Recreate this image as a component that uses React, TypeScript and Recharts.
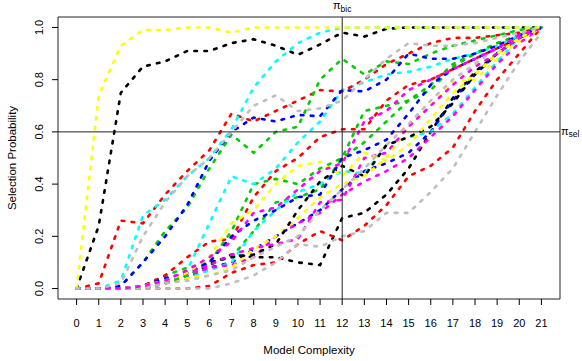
import { LineChart, Line, XAxis, YAxis, ReferenceLine, ReferenceArea } from "recharts";

// model complexity 0..21
const complexity = [0, 1, 2, 3, 4, 5, 6, 7, 8, 9, 10, 11, 12, 13, 14, 15, 16, 17, 18, 19, 20, 21];
const yTicks = [0, 0.2, 0.4, 0.6, 0.8, 1.0];

// selection probability paths
const yellow1 = [0, 0.74, 0.93, 0.99, 0.99, 1, 1, 0.98, 1, 1, 1, 1, 1, 1, 1, 1, 1, 1, 1, 1, 1, 1];
const black1 = [0, 0.24, 0.75, 0.85, 0.87, 0.91, 0.91, 0.94, 0.955, 0.93, 0.895, 0.935, 0.98, 0.965, 0.995, 1, 1, 1, 1, 1, 1, 1];
const red1 = [0, 0.02, 0.26, 0.25, 0.36, 0.45, 0.53, 0.67, 0.64, 0.68, 0.72, 0.76, 0.755, 0.8, 0.86, 0.9, 0.94, 0.96, 0.96, 0.97, 0.98, 1];
const cyan1 = [0, 0, 0.03, 0.28, 0.34, 0.43, 0.5, 0.61, 0.77, 0.87, 0.94, 0.98, 1, 1, 1, 1, 1, 1, 1, 1, 1, 1];
const gray1 = [0, 0, 0.02, 0.2, 0.33, 0.43, 0.5, 0.6, 0.7, 0.74, 0.68, 0.69, 0.72, 0.8, 0.88, 0.94, 0.93, 0.93, 0.94, 0.96, 0.98, 1];
const blue1 = [0, 0, 0.01, 0.1, 0.2, 0.32, 0.49, 0.6, 0.655, 0.64, 0.665, 0.66, 0.76, 0.755, 0.8, 0.9, 0.88, 0.88, 0.9, 0.93, 0.97, 1];
const green1 = [0, 0, 0.01, 0.1, 0.22, 0.31, 0.46, 0.59, 0.52, 0.6, 0.62, 0.8, 0.88, 0.82, 0.87, 0.86, 0.9, 0.93, 0.95, 0.97, 0.99, 1];
const magenta1 = [0, 0, 0, 0.01, 0.03, 0.07, 0.12, 0.18, 0.29, 0.31, 0.38, 0.45, 0.48, 0.64, 0.68, 0.76, 0.8, 0.84, 0.88, 0.92, 0.97, 1];

const cyan2 = [0, 0, 0, 0.01, 0.03, 0.07, 0.25, 0.43, 0.4, 0.46, 0.56, 0.64, 0.76, 0.79, 0.82, 0.83, 0.85, 0.88, 0.9, 0.93, 0.97, 1];
const red2 = [0, 0, 0, 0.01, 0.05, 0.12, 0.18, 0.19, 0.35, 0.45, 0.5, 0.58, 0.61, 0.61, 0.72, 0.78, 0.8, 0.84, 0.88, 0.92, 0.96, 1];
const green2 = [0, 0, 0, 0, 0.02, 0.05, 0.1, 0.22, 0.4, 0.42, 0.4, 0.46, 0.5, 0.68, 0.7, 0.72, 0.78, 0.86, 0.9, 0.94, 0.97, 1];
const green3 = [0, 0, 0, 0.01, 0.05, 0.08, 0.1, 0.12, 0.22, 0.33, 0.35, 0.38, 0.5, 0.56, 0.64, 0.72, 0.76, 0.85, 0.9, 0.94, 0.97, 1];
const blue2 = [0, 0, 0, 0.01, 0.04, 0.06, 0.1, 0.2, 0.26, 0.3, 0.35, 0.36, 0.5, 0.53, 0.57, 0.67, 0.78, 0.84, 0.88, 0.92, 0.96, 1];
const blue3 = [0, 0, 0, 0, 0.02, 0.04, 0.08, 0.1, 0.15, 0.2, 0.25, 0.3, 0.38, 0.45, 0.48, 0.52, 0.6, 0.72, 0.82, 0.9, 0.96, 1];
const magenta2 = [0, 0, 0, 0.01, 0.03, 0.06, 0.09, 0.13, 0.155, 0.17, 0.19, 0.33, 0.34, 0.5, 0.52, 0.62, 0.7, 0.78, 0.85, 0.9, 0.96, 1];
const magenta3 = [0, 0, 0, 0, 0.02, 0.05, 0.08, 0.09, 0.12, 0.2, 0.25, 0.29, 0.36, 0.41, 0.45, 0.5, 0.58, 0.66, 0.76, 0.86, 0.94, 1];
const yellow2 = [0, 0, 0, 0.01, 0.03, 0.06, 0.12, 0.25, 0.3, 0.4, 0.47, 0.485, 0.43, 0.52, 0.49, 0.55, 0.65, 0.75, 0.82, 0.9, 0.96, 1];
const yellow3 = [0, 0, 0, 0, 0.02, 0.04, 0.05, 0.08, 0.15, 0.2, 0.27, 0.35, 0.4, 0.43, 0.5, 0.62, 0.7, 0.79, 0.8, 0.88, 0.95, 1];
const cyan3 = [0, 0, 0, 0, 0.02, 0.04, 0.07, 0.1, 0.22, 0.3, 0.37, 0.4, 0.45, 0.44, 0.55, 0.58, 0.6, 0.67, 0.77, 0.87, 0.96, 1];
const gray2 = [0, 0, 0, 0, 0.02, 0.03, 0.05, 0.07, 0.12, 0.16, 0.2, 0.3, 0.38, 0.46, 0.55, 0.63, 0.72, 0.8, 0.86, 0.92, 0.97, 1];
const black2 = [0, 0, 0, 0.01, 0.03, 0.06, 0.1, 0.12, 0.13, 0.17, 0.3, 0.41, 0.47, 0.43, 0.55, 0.58, 0.62, 0.71, 0.82, 0.9, 0.96, 1];
const black3 = [0, 0, 0, 0, 0.02, 0.05, 0.09, 0.13, 0.12, 0.12, 0.1, 0.09, 0.27, 0.29, 0.36, 0.46, 0.6, 0.73, 0.83, 0.9, 0.96, 1];
const red3 = [0, 0, 0, 0, 0, 0, 0.01, 0.06, 0.09, 0.1, 0.17, 0.22, 0.185, 0.24, 0.32, 0.43, 0.47, 0.54, 0.68, 0.8, 0.9, 1];
const gray3 = [0, 0, 0, 0, 0, 0, 0, 0.02, 0.05, 0.1, 0.17, 0.16, 0.2, 0.22, 0.29, 0.29, 0.37, 0.46, 0.6, 0.74, 0.87, 0.98];

const series = [
  { key: "black3", color: "#000000", values: black3 },
  { key: "red3", color: "#FF0000", values: red3 },
  { key: "green3", color: "#00CD00", values: green3 },
  { key: "blue3", color: "#0000FF", values: blue3 },
  { key: "cyan3", color: "#00FFFF", values: cyan3 },
  { key: "magenta3", color: "#FF00FF", values: magenta3 },
  { key: "yellow3", color: "#FFFF00", values: yellow3 },
  { key: "gray3", color: "#BEBEBE", values: gray3 },
  { key: "black2", color: "#000000", values: black2 },
  { key: "red2", color: "#FF0000", values: red2 },
  { key: "green2", color: "#00CD00", values: green2 },
  { key: "blue2", color: "#0000FF", values: blue2 },
  { key: "cyan2", color: "#00FFFF", values: cyan2 },
  { key: "magenta2", color: "#FF00FF", values: magenta2 },
  { key: "yellow2", color: "#FFFF00", values: yellow2 },
  { key: "gray2", color: "#BEBEBE", values: gray2 },
  { key: "black1", color: "#000000", values: black1 },
  { key: "red1", color: "#FF0000", values: red1 },
  { key: "green1", color: "#00CD00", values: green1 },
  { key: "blue1", color: "#0000FF", values: blue1 },
  { key: "cyan1", color: "#00FFFF", values: cyan1 },
  { key: "magenta1", color: "#FF00FF", values: magenta1 },
  { key: "yellow1", color: "#FFFF00", values: yellow1 },
  { key: "gray1", color: "#BEBEBE", values: gray1 },
];

const data = complexity.map((c, i) => {
  const row: Record<string, number> = { complexity: c };
  series.forEach((s) => (row[s.key] = s.values[i]));
  return row;
});

const FONT = "'Liberation Sans', Arial, Helvetica, sans-serif";

// R style: labels parallel to the axis
function YTick(props: any) {
  const { x, y, payload } = props;
  const bx = x - 7;
  return (
    <text x={bx} y={y} transform={`rotate(-90, ${bx}, ${y})`} textAnchor="middle" fontSize={11} fill="#000" fontFamily={FONT}>
      {payload.value.toFixed(1)}
    </text>
  );
}

export default function App() {
  return (
    <div style={{ position: "absolute", left: 0, top: 0, background: "#fff" }}>
      <LineChart width={582} height={361} data={data} margin={{ top: 17, right: 22, left: 0, bottom: 0 }}>
        <XAxis
          dataKey="complexity"
          type="number"
          domain={[-0.84, 21.84]}
          ticks={complexity}
          interval={0}
          axisLine={false}
          tickLine={{ stroke: "#000" }}
          tickSize={6}
          tickMargin={14}
          height={62}
          tick={{ fontSize: 11, fill: "#000", fontFamily: FONT }}
          label={{
            content: (p: any) => (
              <text x={p.viewBox.x + p.viewBox.width / 2} y={354} textAnchor="middle" fontSize={11.5} fontFamily={FONT} fill="#000">
                Model Complexity
              </text>
            ),
          }}
        />
        <YAxis
          type="number"
          domain={[-0.04, 1.04]}
          ticks={yTicks}
          axisLine={false}
          tickLine={{ stroke: "#000" }}
          tickSize={6}
          width={58}
          tick={<YTick />}
          label={{
            content: (p: any) => {
              const cy = p.viewBox.y + p.viewBox.height / 2;
              return (
                <text x={16} y={cy} transform={`rotate(-90, 16, ${cy})`} textAnchor="middle" fontSize={11.5} fontFamily={FONT} fill="#000">
                  Selection Probability
                </text>
              );
            },
          }}
        />
        <ReferenceArea x1={-0.84} x2={21.84} y1={-0.04} y2={1.04} fill="none" stroke="#222" strokeWidth={1} ifOverflow="visible" />
        {series.map((s) => (
          <Line
            key={s.key}
            dataKey={s.key}
            stroke={s.color}
            strokeWidth={2.6}
            strokeDasharray="2.6 7.4"
            strokeLinecap="round"
            dot={false}
            activeDot={false}
            type="linear"
            isAnimationActive={false}
          />
        ))}
        <ReferenceLine
          x={12}
          stroke="#222"
          strokeWidth={1}
          label={{
            content: (p: any) => (
              <text x={p.viewBox.x} y={9} textAnchor="middle" fontFamily={FONT} fill="#000">
                <tspan fontSize={11}>π</tspan>
                <tspan fontSize={8.5} dy={2.5}>bic</tspan>
              </text>
            ),
          }}
        />
        <ReferenceLine
          y={0.6}
          stroke="#222"
          strokeWidth={1}
          label={{
            content: (p: any) => (
              <text x={p.viewBox.x + p.viewBox.width + 1} y={p.viewBox.y + 3} textAnchor="start" fontFamily={FONT} fill="#000">
                <tspan fontSize={11}>π</tspan>
                <tspan fontSize={8.5} dy={2.5}>sel</tspan>
              </text>
            ),
          }}
        />
      </LineChart>
    </div>
  );
}
